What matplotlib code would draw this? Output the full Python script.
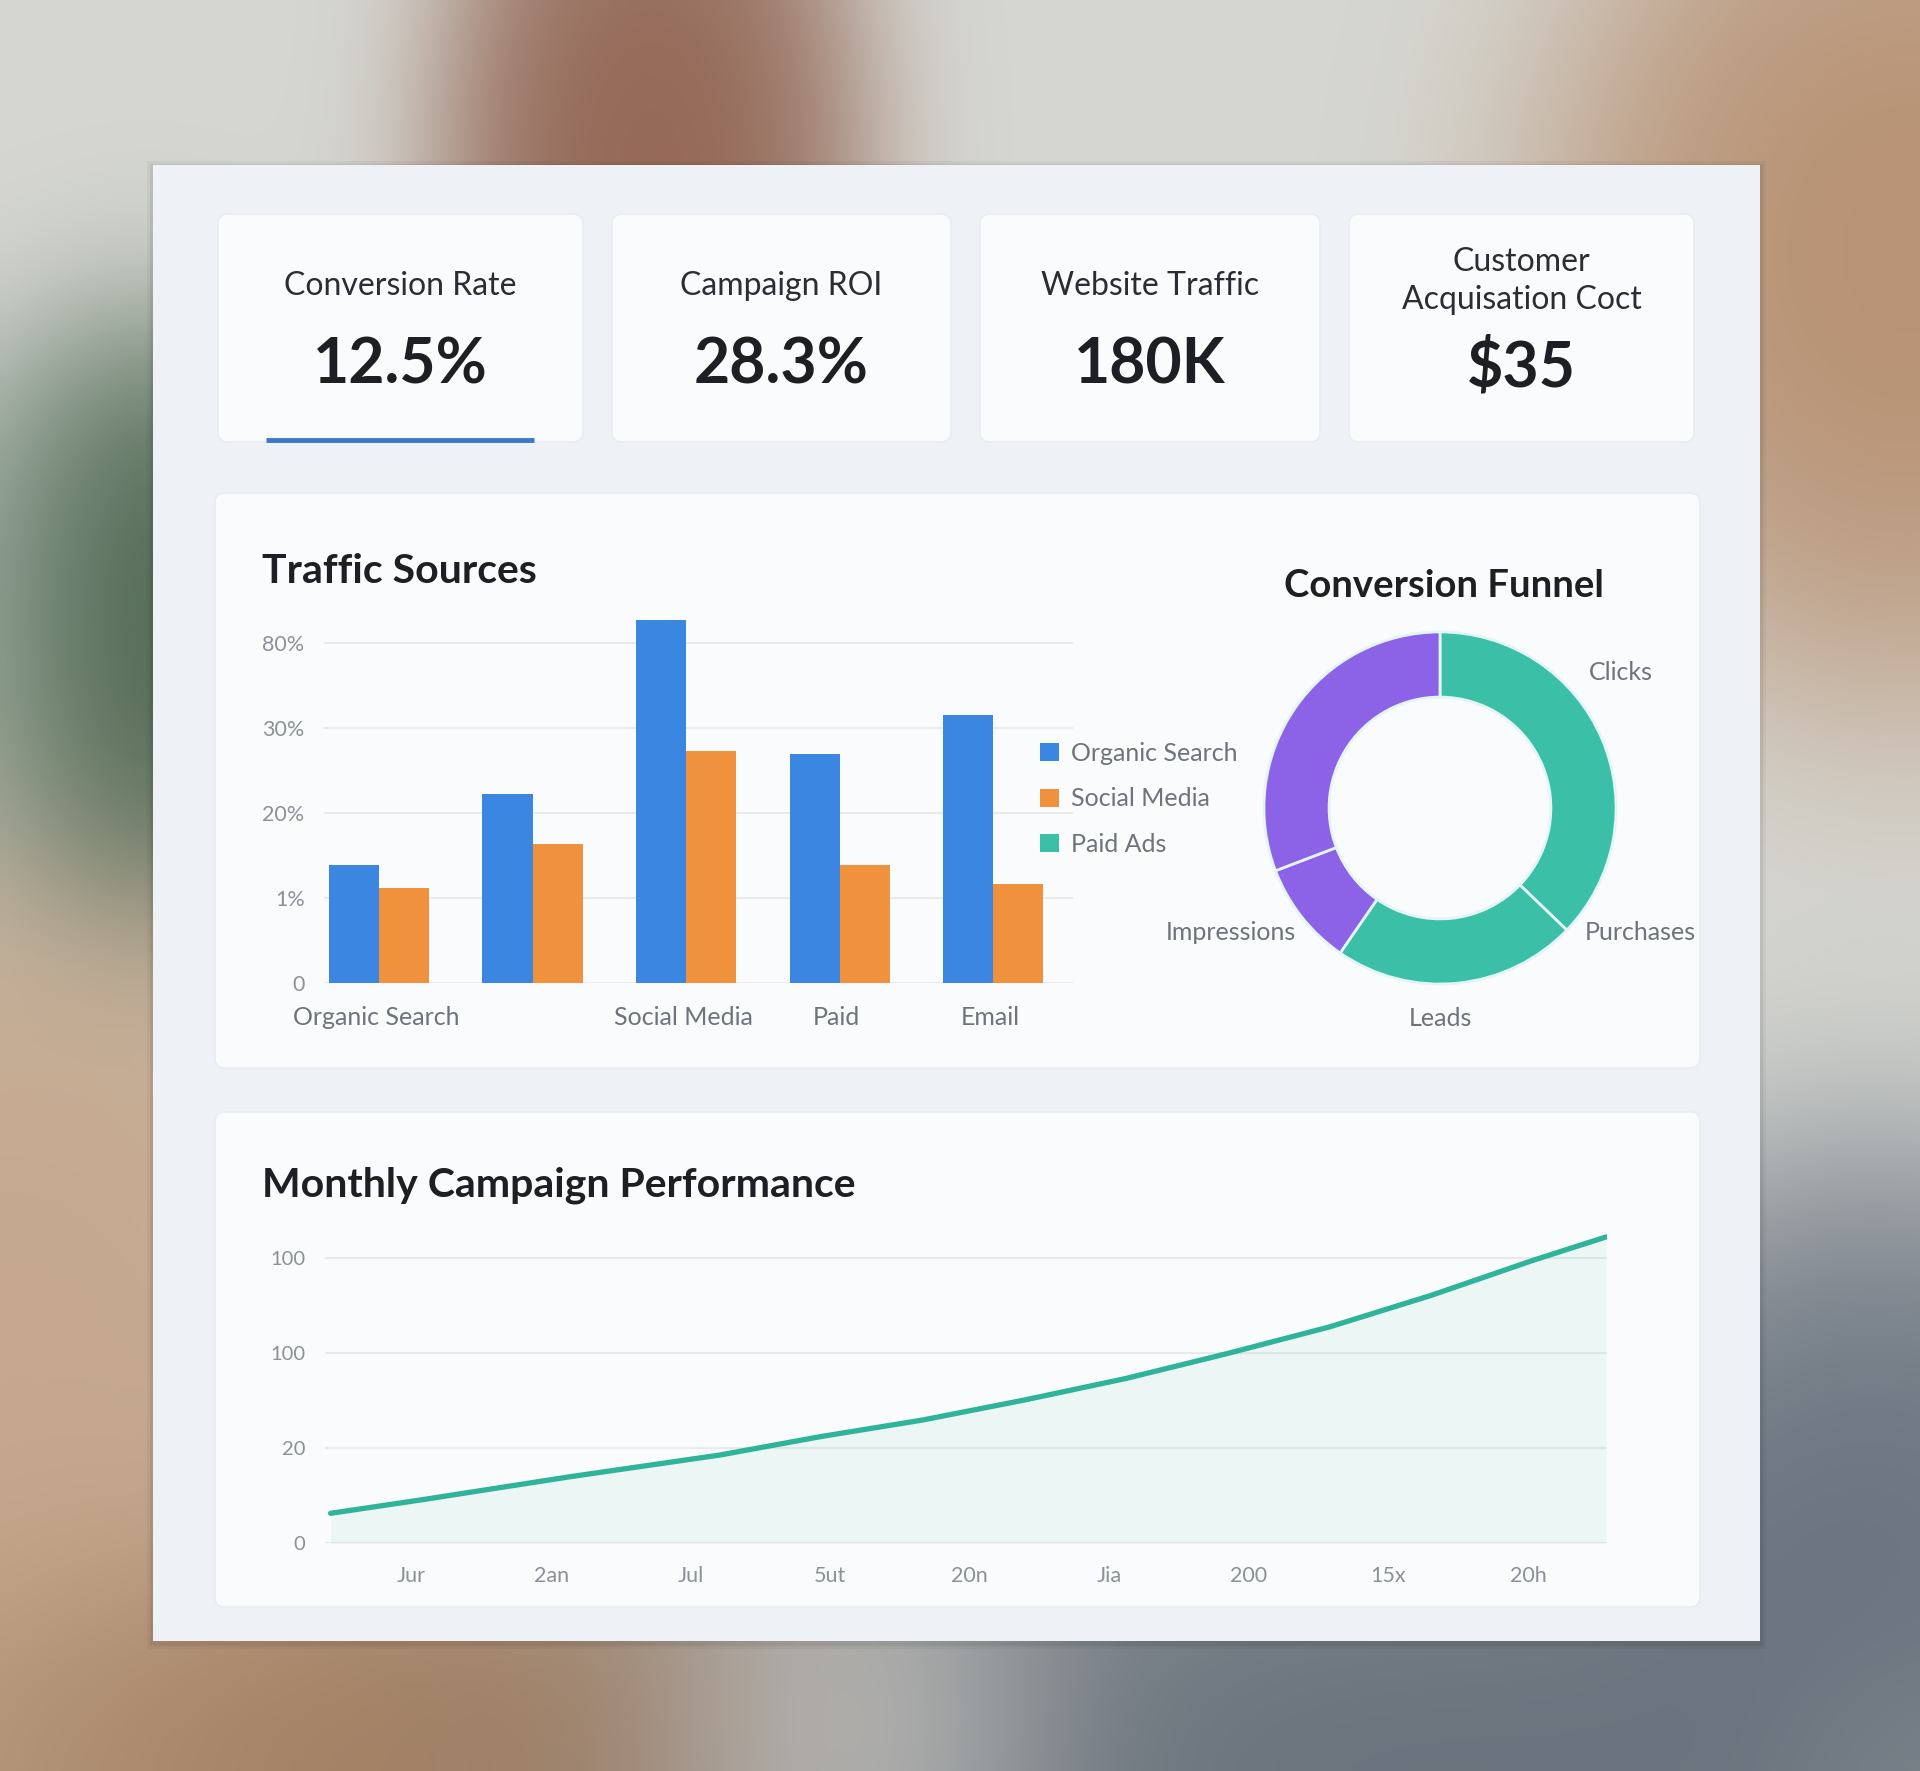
import matplotlib
matplotlib.use("Agg")
import matplotlib.pyplot as plt
import numpy as np
from matplotlib.patches import FancyBboxPatch, Rectangle, Patch
from matplotlib.colors import to_rgb

plt.rcParams['font.family'] = ['Lato', 'DejaVu Sans']

W, H = 1920, 1771

# --- data ---
kpi_titles = ["Conversion Rate", "Campaign ROI", "Website Traffic", "Customer\nAcquisation Coct"]
kpi_values = ["12.5%", "28.3%", "180K", "$35"]

source_labels = ["Organic Search", "", "Social Media", "Paid", "Email"]
organic = [1.39, 2.22, 4.28, 2.70, 3.16]
social = [1.12, 1.64, 2.73, 1.39, 1.16]
traffic_ticks = [0, 1, 2, 3, 4]
traffic_ticklabels = ["0", "1%", "20%", "30%", "80%"]
legend_labels = ["Organic Search", "Social Media", "Paid Ads"]

funnel_values = [37.2, 22.4, 9.6, 30.8]
funnel_labels = ["Clicks", "Purchases", "Leads", "Impressions"]

month_pos = [-0.58, 0.06, 1.14, 2.21, 2.93, 3.66, 4.39, 5.12, 5.85, 6.58, 7.31, 8.04, 8.56]
perf = [0.315, 0.454, 0.70, 0.927, 1.12, 1.294, 1.504, 1.731, 1.994, 2.273, 2.605, 2.973, 3.217]
month_labels = ["Jur", "2an", "Jul", "5ut", "20n", "Jia", "200", "15x", "20h"]
perf_ticks = [0, 1, 2, 3]
perf_ticklabels = ["0", "20", "100", "100"]

# colours
BLUE = '#3a86e0'
ORANGE = '#f0913e'
TEAL = '#3bbfa7'
PURPLE = '#8c62e6'
LINE = '#2fb39b'
DARK = '#1d1f24'
GREY = '#6e737c'
LGREY = '#8b9099'


def rect(x0, y0, x1, y1):
    # pixel box (top-down) -> figure fraction
    return [x0 / W, 1 - y1 / H, (x1 - x0) / W, (y1 - y0) / H]


fig = plt.figure(figsize=(W / 100, H / 100), dpi=100)

# background: blurred photo look
bg = fig.add_axes([0, 0, 1, 1])
bg.set_xlim(0, W)
bg.set_ylim(H, 0)
bg.axis('off')

gx, gy = np.meshgrid(np.linspace(0, W, 240), np.linspace(0, H, 220))
blobs = [
    (650, 170, 100, 200, '#8a5844', 6),
    (1910, 250, 170, 210, '#b48866', 6),
    (150, 640, 90, 140, '#3c5841', 7),
    (0, 640, 100, 140, '#8fa498', 3),
    (0, 1400, 260, 330, '#c29f80', 5),
    (330, 1760, 260, 130, '#987050', 6),
    (860, 1760, 120, 110, '#d4d4d0', 4),
    (1420, 1790, 400, 170, '#5a6470', 6),
    (1880, 1560, 170, 190, '#5e6876', 6),
    (1910, 1760, 90, 90, '#8a9094', 3),
]
num = np.ones(gx.shape)[..., None] * np.array(to_rgb('#d6d7d2'))
den = np.ones(gx.shape)
for cx, cy, sx, sy, col, a in blobs:
    w = a * np.exp(-0.5 * ((gx - cx) / sx) ** 2 - 0.5 * ((gy - cy) / sy) ** 2)
    num += w[..., None] * np.array(to_rgb(col))
    den += w
bg.imshow(num / den[..., None], extent=(0, W, H, 0), interpolation='bilinear',
          aspect='auto', zorder=0)

# main panel + soft shadow
for grow, a in [(6, 0.04), (3, 0.06)]:
    bg.add_patch(Rectangle((153 - grow, 165 - grow + 2), 1607 + 2 * grow, 1476 + 2 * grow,
                           fc='#000000', alpha=a, ec='none', zorder=1))
bg.add_patch(Rectangle((153, 165), 1607, 1476, fc='#eef1f5', ec='none', zorder=2))


def card(x0, y0, x1, y1, fc='#fafbfc'):
    bg.add_patch(FancyBboxPatch((x0, y0), x1 - x0, y1 - y0,
                                boxstyle="round,pad=0,rounding_size=10",
                                fc=fc, ec='#e8ebef', lw=1.0, zorder=3))


kpi_boxes = [(218, 214, 583, 442), (612, 214, 951, 442),
             (980, 214, 1320, 442), (1349, 214, 1694, 442)]
for (x0, y0, x1, y1), t, v in zip(kpi_boxes, kpi_titles, kpi_values):
    card(x0, y0, x1, y1)
    cx = (x0 + x1) / 2
    two = '\n' in t
    bg.text(cx, 281 if two else 286, t, ha='center', va='center', fontsize=23,
            color='#2a2d33', linespacing=1.3, zorder=4)
    bg.text(cx, 368 if two else 365, v, ha='center', va='center',
            fontsize=45, fontweight='bold', color=DARK, zorder=4)

# active-tab underline
bg.plot([266, 534], [440, 440], color='#3a78c8', lw=3.5, solid_capstyle='butt', zorder=5)

card(215, 493, 1700, 1068)
card(215, 1112, 1700, 1607)

bg.text(262, 583, "Traffic Sources", fontsize=29.5, fontweight='bold', color=DARK,
        ha='left', va='baseline', zorder=4)
bg.text(1444, 597, "Conversion Funnel", fontsize=27.5, fontweight='bold', color=DARK,
        ha='center', va='baseline', zorder=4)
bg.text(262, 1197, "Monthly Campaign Performance", fontsize=29.5, fontweight='bold',
        color=DARK, ha='left', va='baseline', zorder=4)

# --- traffic sources bar chart ---
ax1 = fig.add_axes(rect(324, 600, 1073, 982.7))
ax1.set_facecolor('none')
x = np.arange(len(organic))
bw = 0.326
ax1.bar(x - bw / 2, organic, bw, color=BLUE, zorder=3)
ax1.bar(x + bw / 2, social, bw, color=ORANGE, zorder=3)
ax1.set_xlim(-0.358, 4.52)
ax1.set_ylim(0, 4.51)
ax1.set_yticks(traffic_ticks)
ax1.set_yticklabels(traffic_ticklabels, fontsize=15.5, color=LGREY)
ax1.set_xticks(x - 0.02)
ax1.set_xticklabels(source_labels, fontsize=18, color=GREY)
ax1.tick_params(axis='y', length=0, pad=14)
ax1.tick_params(axis='x', length=0, pad=17)
ax1.grid(axis='y', color='#e7e9ed', lw=1.3)
ax1.set_axisbelow(True)
for s in ax1.spines.values():
    s.set_visible(False)

handles = [Patch(fc=c) for c in [BLUE, ORANGE, TEAL]]
ax1.legend(handles, legend_labels, loc='upper left',
           bbox_to_anchor=(1040 / W, 1 - 742 / H), bbox_transform=fig.transFigure,
           frameon=False, fontsize=18, labelcolor=GREY, borderpad=0, borderaxespad=0,
           handlelength=0.75, handleheight=0.75, handletextpad=0.5, labelspacing=0.9)

# --- conversion funnel donut ---
ax2 = fig.add_axes(rect(1240, 608, 1640, 1008))
ax2.pie(funnel_values, colors=[TEAL, TEAL, PURPLE, PURPLE], startangle=90,
        counterclock=False, radius=1,
        wedgeprops=dict(width=0.37, edgecolor='#e4f5f6', linewidth=2))
ax2.set_xlim(-1.136, 1.136)
ax2.set_ylim(-1.136, 1.136)
ax2.set_aspect('equal')
lab_pos = [(1.03, 0.767), (1.136, -0.71), (0, -1.193), (-1.19, -0.71)]
for name, (lx, ly) in zip(funnel_labels, lab_pos):
    ax2.text(lx, ly, name, ha='center', va='center', fontsize=18, color=GREY)

# --- monthly performance line ---
ax3 = fig.add_axes(rect(325, 1230, 1607, 1543.3))
ax3.set_facecolor('none')
ax3.fill_between(month_pos, perf, 0, color=TEAL, alpha=0.08, lw=0, zorder=1)
ax3.plot(month_pos, perf, color=LINE, lw=3.8, solid_capstyle='round',
         solid_joinstyle='round', zorder=3)
ax3.set_xlim(-0.62, 8.567)
ax3.set_ylim(0, 3.29)
ax3.set_yticks(perf_ticks)
ax3.set_yticklabels(perf_ticklabels, fontsize=14.5, color=LGREY)
ax3.set_xticks(range(len(month_labels)))
ax3.set_xticklabels(month_labels, fontsize=15.5, color=LGREY)
ax3.tick_params(axis='y', length=0, pad=14)
ax3.tick_params(axis='x', length=0, pad=16)
ax3.grid(axis='y', color='#e7e9ed', lw=1.5)
ax3.set_axisbelow(True)
for s in ax3.spines.values():
    s.set_visible(False)

fig.savefig('out.png', dpi=100)
